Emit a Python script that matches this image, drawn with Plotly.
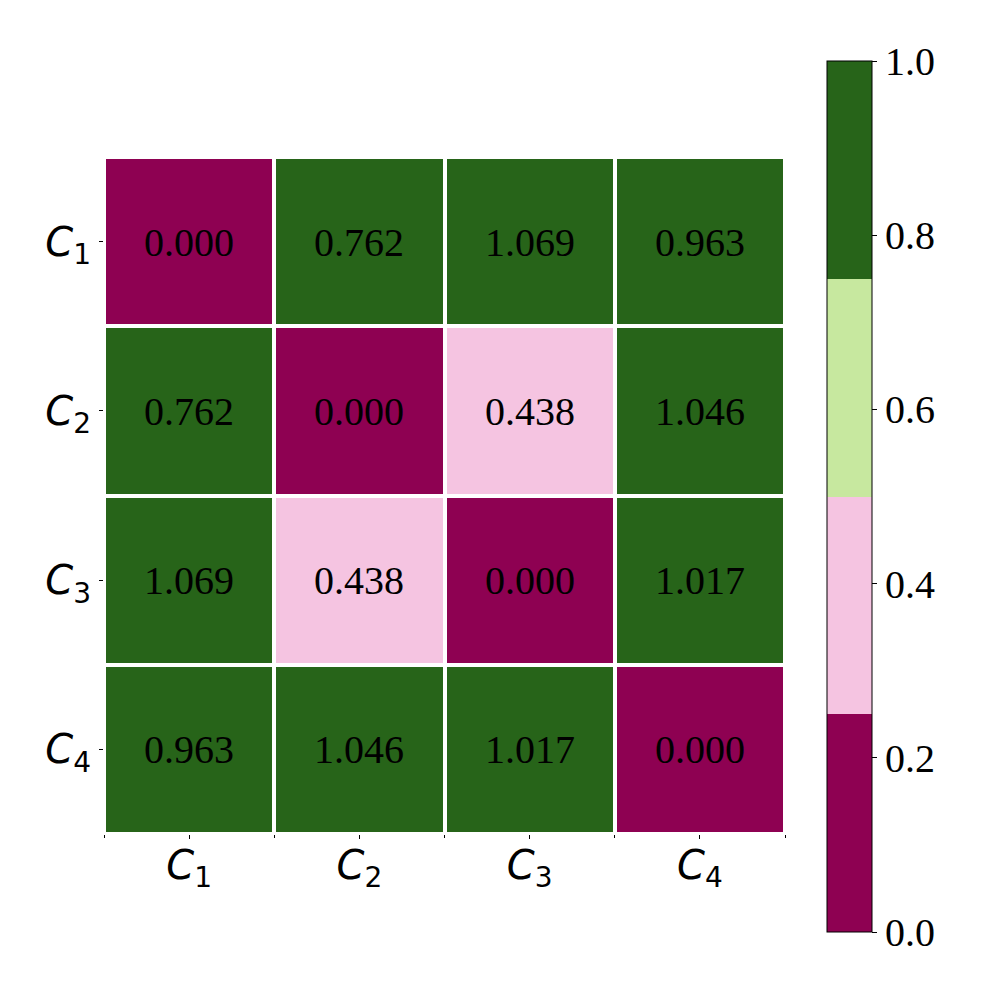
import plotly.graph_objects as go

# 数据
labels = ["<i>C</i><sub>1</sub>", "<i>C</i><sub>2</sub>",
          "<i>C</i><sub>3</sub>", "<i>C</i><sub>4</sub>"]
row_c1 = [0.000, 0.762, 1.069, 0.963]
row_c2 = [0.762, 0.000, 0.438, 1.046]
row_c3 = [1.069, 0.438, 0.000, 1.017]
row_c4 = [0.963, 1.046, 1.017, 0.000]
z = [row_c1, row_c2, row_c3, row_c4]

cbar_ticks = [0.0, 0.2, 0.4, 0.6, 0.8, 1.0]

# PiYG 离散4色
c0, c1, c2, c3 = "#8e0152", "#f5c4e1", "#c7e89f", "#276419"
colorscale = [[0, c0], [0.25, c0], [0.25, c1], [0.5, c1],
              [0.5, c2], [0.75, c2], [0.75, c3], [1, c3]]

fig = go.Figure()
fig.add_trace(go.Heatmap(
    z=z,
    x=[0, 1, 2, 3],
    y=[0, 1, 2, 3],
    zmin=0, zmax=1,
    colorscale=colorscale,
    xgap=4, ygap=4,
    texttemplate="%{z:.3f}",
    textfont=dict(family="Liberation Serif", size=40, color="black"),
    hoverinfo="skip",
    colorbar=dict(
        x=0.819, xanchor="left",
        y=0.076, yanchor="bottom",
        len=871, lenmode="pixels",
        thickness=45, thicknessmode="pixels",
        outlinewidth=1, outlinecolor="black",
        tickvals=cbar_ticks,
        ticktext=[f"{v:.1f}" for v in cbar_ticks],
        ticks="outside", ticklen=5, tickcolor="black",
        tickfont=dict(family="Liberation Serif", size=40, color="black"),
        xpad=0, ypad=0,
    ),
))

fig.update_layout(
    width=1000, height=1000,
    margin=dict(l=0, r=0, t=0, b=0),
    paper_bgcolor="white",
    plot_bgcolor="white",
    xaxis=dict(
        domain=[0.096, 0.777],
        range=[-0.5, 3.5],
        tickvals=[0, 1, 2, 3],
        ticktext=labels,
        ticks="outside", ticklen=4, tickcolor="black", tickwidth=1,
        ticklabelstandoff=-8,
        minor=dict(tickvals=[-0.5, 0.5, 1.5, 2.5, 3.5], ticks="outside",
                   ticklen=3, tickcolor="black", tickwidth=1),
        tickfont=dict(family="DejaVu Sans", size=40, color="black"),
        showgrid=False, zeroline=False, showline=False,
    ),
    yaxis=dict(
        domain=[0.174, 0.851],
        range=[3.5, -0.5],
        tickvals=[0, 1, 2, 3],
        ticktext=labels,
        ticks="outside", ticklen=4, tickcolor="black", tickwidth=1,
        tickfont=dict(family="DejaVu Sans", size=40, color="black"),
        showgrid=False, zeroline=False, showline=False,
    ),
)

fig.write_html("out.html")
